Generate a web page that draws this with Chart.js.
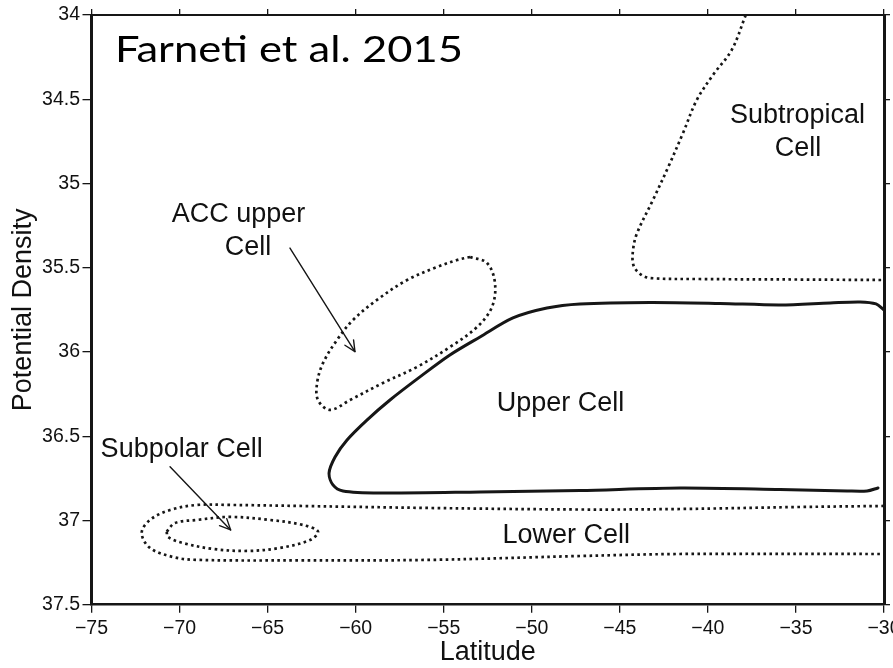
<!DOCTYPE html>
<html>
<head>
<meta charset="utf-8">
<script src="https://cdn.jsdelivr.net/npm/chart.js@4.4.1/dist/chart.umd.min.js"></script>
<style>
  html, body { margin: 0; padding: 0; background: #fff; }
  #wrap { width: 893px; height: 668px; position: relative; }
</style>
</head>
<body>
<div id="wrap"><canvas id="c"></canvas></div>
<script>
// Overturning cells of the Southern Ocean in latitude / potential-density space.

// Subtropical Cell contour (open, enters from the top and leaves at the right edge)
const subtropicalLat  = [-37.85, -38.65, -39.71, -40.63, -41.41, -42.25, -43.12, -44.02, -44.25, -44.23, -43.85, -43.29, -40.45, -34.77, -30.00];
const subtropicalDens = [34.000, 34.208, 34.356, 34.504, 34.700, 34.902, 35.098, 35.294, 35.395, 35.484, 35.537, 35.561, 35.567, 35.570, 35.573];

// Upper Cell contour (solid, open at the northern edge)
const upperLat  = [-30.00, -30.45, -31.36, -33.06, -35.90, -39.31, -43.29, -47.26, -49.14, -51.07, -52.94, -54.65, -56.35, -58.05, -59.36, -60.49, -61.17, -61.51, -61.29, -60.72, -58.62, -52.94, -47.26, -41.58, -35.90, -32.09, -30.96, -30.34];
const upperDens = [35.751, 35.715, 35.703, 35.709, 35.721, 35.712, 35.706, 35.715, 35.739, 35.798, 35.911, 36.018, 36.148, 36.285, 36.404, 36.522, 36.623, 36.718, 36.789, 36.825, 36.837, 36.831, 36.822, 36.807, 36.816, 36.825, 36.825, 36.807];

// ACC upper Cell contour (closed loop)
const accLat  = [-53.50, -52.54, -52.09, -52.26, -53.11, -54.64, -56.52, -58.45, -60.32, -61.46, -62.14, -62.19, -61.85, -61.06, -60.15, -58.79, -57.08, -55.38, -54.24, -53.50];
const accDens = [35.436, 35.472, 35.591, 35.733, 35.852, 35.970, 36.089, 36.184, 36.285, 36.344, 36.285, 36.184, 36.065, 35.929, 35.810, 35.691, 35.573, 35.496, 35.454, 35.436];

// Lower Cell contour (open at the northern edge)
const lowerLat  = [-30.00, -34.77, -41.58, -47.26, -55.78, -63.16, -67.14, -69.01, -70.54, -71.68, -72.15, -71.68, -70.37, -69.01, -63.16, -55.78, -47.26, -41.58, -30.00];
const lowerDens = [36.914, 36.920, 36.932, 36.935, 36.926, 36.914, 36.908, 36.908, 36.938, 36.997, 37.074, 37.163, 37.217, 37.234, 37.237, 37.234, 37.211, 37.199, 37.199];

// Subpolar Cell contour (closed loop)
const subpolarLat  = [-70.73, -70.26, -69.01, -67.14, -64.87, -62.99, -62.14, -62.59, -64.30, -66.17, -68.10, -69.80, -70.66, -70.73];
const subpolarDens = [37.066, 37.015, 36.997, 36.979, 36.997, 37.027, 37.066, 37.116, 37.163, 37.181, 37.169, 37.134, 37.098, 37.066];

// Pointer arrows: shaft [start, tip] and head [barb, tip, barb]
const accArrowLat       = [-63.73, -60.04];
const accArrowDens      = [35.383, 35.998];
const accHeadLat        = [-60.12, -60.04, -60.61];
const accHeadDens       = [35.928, 35.998, 35.960];
const subpolarArrowLat  = [-70.54, -67.10];
const subpolarArrowDens = [36.681, 37.056];
const subpolarHeadLat   = [-67.32, -67.10, -67.73];
const subpolarHeadDens  = [36.989, 37.056, 37.031];

// Cell names, anchored at latitude / density
const cellNames = ['Subtropical', 'Cell', 'ACC upper', 'Cell', 'Upper Cell', 'Subpolar Cell', 'Lower Cell'];
const cellNameLat  = [-34.91, -34.88, -66.65, -66.11, -48.37, -69.88, -48.04];
const cellNameDens = [34.596, 34.794, 35.184, 35.380, 36.307, 36.577, 37.089];

const citation = 'Farneti et al. 2015';
const citationLat = -73.67;
const citationDens = 34.279;

const HELV = '"Liberation Sans", Arial, Helvetica, sans-serif';
const INK = '#161616';

const pts = (lat, dens) => lat.map((x, i) => ({ x, y: dens[i] }));

const dotted = (lat, dens) => ({
  data: pts(lat, dens), showLine: true, pointRadius: 0, tension: 0.35,
  borderColor: INK, borderWidth: 2.7, borderDash: [2.6, 3.4], borderCapStyle: 'butt'
});
const solid = (lat, dens, w, t) => ({
  data: pts(lat, dens), showLine: true, pointRadius: 0, tension: t,
  borderColor: INK, borderWidth: w, borderCapStyle: 'round', borderJoinStyle: 'round'
});

const namesPlugin = {
  id: 'cellNames',
  afterDatasetsDraw(chart) {
    const { ctx, scales: { x, y } } = chart;
    ctx.save();
    ctx.fillStyle = '#111';
    ctx.textAlign = 'center';
    ctx.textBaseline = 'middle';
    ctx.font = '27px ' + HELV;
    cellNames.forEach((t, i) => {
      ctx.fillText(t, x.getPixelForValue(cellNameLat[i]), y.getPixelForValue(cellNameDens[i]));
    });
    // citation in a wide humanist face
    const cx = x.getPixelForValue(citationLat);
    const cy = y.getPixelForValue(citationDens);
    ctx.fillStyle = '#000';
    ctx.textAlign = 'left';
    ctx.textBaseline = 'alphabetic';
    ctx.font = '37px Lato, "Open Sans", sans-serif';
    const w = ctx.measureText(citation).width;
    ctx.translate(cx, cy);
    ctx.scale(348 / w, 1);
    ctx.fillText(citation, 0, 0);
    ctx.restore();
  }
};

const minus = v => (v < 0 ? '\u2212' + Math.abs(v) : String(v));
// keep the frame fixed: no extra room for overhanging end labels
const noOverhang = s => { s.paddingLeft = 0; s.paddingRight = 0; s.paddingTop = 0; s.paddingBottom = 0; };

new Chart(document.getElementById('c'), {
  type: 'scatter',
  data: {
    datasets: [
      dotted(subtropicalLat, subtropicalDens),
      solid(upperLat, upperDens, 3, 0.3),
      dotted(accLat, accDens),
      dotted(lowerLat, lowerDens),
      dotted(subpolarLat, subpolarDens),
      solid(accArrowLat, accArrowDens, 1.4, 0),
      solid(accHeadLat, accHeadDens, 1.4, 0),
      solid(subpolarArrowLat, subpolarArrowDens, 1.4, 0),
      solid(subpolarHeadLat, subpolarHeadDens, 1.4, 0)
    ]
  },
  options: {
    responsive: true,
    maintainAspectRatio: false,
    devicePixelRatio: 1,
    animation: false,
    events: [],
    layout: { autoPadding: false, padding: 0 },
    plugins: { legend: { display: false }, tooltip: { enabled: false } },
    scales: {
      x: {
        type: 'linear', position: 'bottom', min: -75, max: -30,
        ticks: { stepSize: 5, padding: 4, color: '#111', font: { family: HELV, size: 19.5 }, callback: minus, maxRotation: 0 },
        grid: { drawOnChartArea: false, drawTicks: true, tickLength: 8, color: INK, lineWidth: 1.3 },
        border: { display: true, color: INK, width: 2.5 },
        title: { display: true, text: 'Latitude', color: '#111', font: { family: HELV, size: 27, lineHeight: 1 }, padding: { top: 0, bottom: 1.5 } },
        afterFit(s) { s.height = 63.3; noOverhang(s); }
      },
      x2: {
        type: 'linear', position: 'top', min: -75, max: -30,
        ticks: { stepSize: 5, display: false },
        grid: { drawOnChartArea: false, drawTicks: true, tickLength: 6, color: INK, lineWidth: 1.3 },
        border: { display: true, color: INK, width: 2 },
        afterFit(s) { s.height = 15; noOverhang(s); }
      },
      y: {
        type: 'linear', position: 'left', min: 34, max: 37.5, reverse: true,
        ticks: { stepSize: 0.5, padding: 2.5, color: '#111', font: { family: HELV, size: 19.5 }, callback: v => String(v) },
        grid: { drawOnChartArea: false, drawTicks: true, tickLength: 9, color: INK, lineWidth: 1.3 },
        border: { display: true, color: INK, width: 3 },
        title: { display: true, text: 'Potential Density', color: '#111', font: { family: HELV, size: 27, lineHeight: 1 }, padding: { top: 10, bottom: 0 } },
        afterFit(s) { s.width = 91.5; noOverhang(s); }
      },
      y2: {
        type: 'linear', position: 'right', min: 34, max: 37.5, reverse: true,
        ticks: { stepSize: 0.5, display: false },
        grid: { drawOnChartArea: false, drawTicks: true, tickLength: 6, color: INK, lineWidth: 1.3 },
        border: { display: true, color: INK, width: 3 },
        afterFit(s) { s.width = 9; noOverhang(s); }
      }
    }
  },
  plugins: [namesPlugin]
});
</script>
</body>
</html>
